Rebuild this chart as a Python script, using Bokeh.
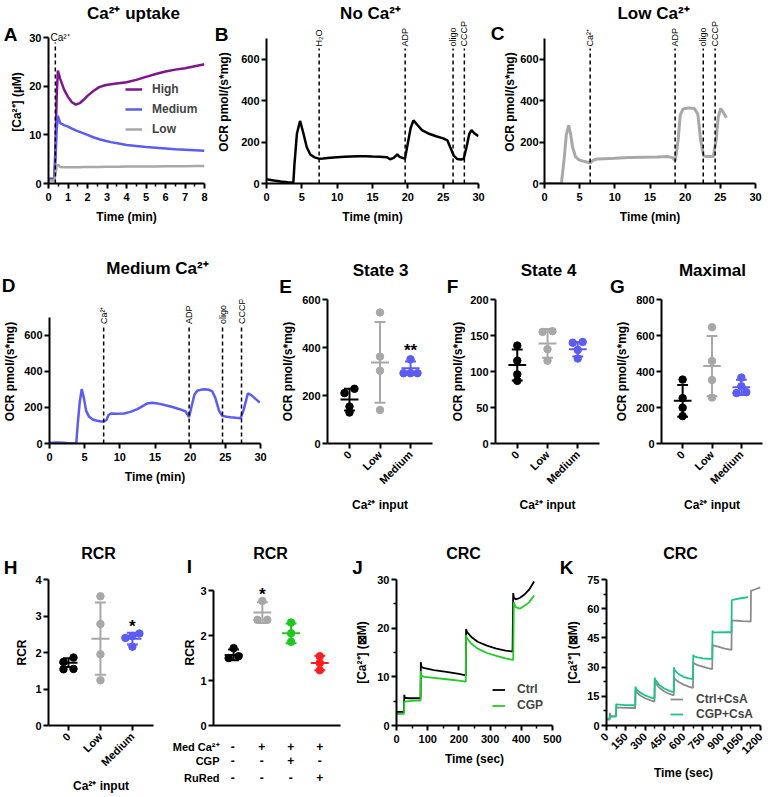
import math
from bokeh.plotting import figure
from bokeh.models import Range1d, Label, Legend, LegendItem, FixedTicker
from bokeh.layouts import row, column
from bokeh.embed import file_html
from bokeh.resources import INLINE
from bokeh.core.properties import value

FONT = "Liberation Sans"
nan = float("nan")

# ---------------- data ----------------
A_time = [0, 0.3, 0.36, 0.42, 0.48, 0.6, 0.8, 1.0, 1.2, 1.4, 1.6, 1.8, 2.0, 2.3, 2.6, 2.9, 3.2, 3.6, 4.0, 4.5, 5.0, 5.5, 6.0, 6.5, 7.0, 7.5, 8.0]
A_high = [1.0, 1.0, 8.0, 18.0, 23.2, 21.5, 19.3, 17.8, 16.7, 16.2, 16.5, 17.2, 18.0, 19.0, 19.8, 20.2, 20.4, 20.6, 20.8, 21.3, 21.9, 22.5, 23.0, 23.4, 23.7, 24.1, 24.5]
A_medium = [0.8, 0.8, 5.0, 11.0, 13.9, 12.4, 12.0, 11.7, 11.3, 10.9, 10.6, 10.3, 10.0, 9.5, 9.1, 8.8, 8.5, 8.2, 7.9, 7.7, 7.5, 7.35, 7.2, 7.05, 6.95, 6.85, 6.75]
A_low = [0.6, 0.6, 2.0, 3.5, 3.9, 3.4, 3.35, 3.35, 3.35, 3.35, 3.35, 3.4, 3.4, 3.4, 3.4, 3.45, 3.45, 3.45, 3.5, 3.5, 3.5, 3.5, 3.55, 3.55, 3.55, 3.6, 3.6]
A_inject = [0.35]

B_time = [0, 1, 2, 3, 3.8, 3.95, 4.3, 4.75, 5.2, 5.7, 6.2, 6.8, 7.4, 8, 9, 10, 11, 12, 13, 14, 15, 16, 17, 17.5, 18, 18.5, 18.8, 19.2, 19.6, 20.0, 20.4, 20.8, 21.3, 22, 23, 24, 25, 25.6, 26, 26.5, 27, 27.5, 27.9, 28.3, 28.7, 29.0, 29.5, 30]
B_ocr = [20, 15, 10, 6, 5, 90, 240, 302, 245, 175, 140, 126, 120, 121, 124, 127, 129, 130, 131, 132, 130, 129, 127, 117, 124, 140, 130, 124, 120, 195, 268, 305, 285, 258, 240, 228, 218, 208, 175, 135, 118, 116, 118, 175, 240, 258, 240, 228]
B_marks = [7.45, 19.62, 26.4, 28.0]
B_mark_labels = ["H\u2082O", "ADP", "oligo", "CCCP"]

C_time = [0, 0.5, 1.0, 1.5, 2.0, 2.4, 2.8, 3.1, 3.43, 3.7, 4.0, 4.4, 4.9, 5.5, 6.0, 6.5, 6.9, 7.5, 8.5, 10, 12, 14, 16, 17.5, 18.2, 18.6, 19.0, 19.3, 19.7, 20.5, 21.3, 21.8, 22.2, 22.6, 23.0, 24.0, 24.4, 24.7, 25.05, 25.4, 25.86]
C_ocr = [0, 0, 0, 0, 0, 0, 120, 235, 281, 240, 175, 130, 114, 108, 104, 100, 112, 118, 120, 122, 125, 127, 128, 130, 125, 112, 210, 330, 360, 365, 362, 335, 210, 136, 130, 130, 210, 320, 362, 345, 318]
C_marks = [6.49, 18.57, 22.57, 24.26]
C_mark_labels = ["Ca\u00b2\u207a", "ADP", "oligo", "CCCP"]

D_time = [0, 1, 2, 3, 3.8, 4.0, 4.3, 4.58, 4.9, 5.2, 5.6, 6.14, 6.8, 7.32, 7.8, 8.1, 8.4, 8.74, 9.5, 10.6, 11.5, 12.5, 13.3, 13.9, 14.6, 15.35, 16.5, 17.5, 18.5, 19.37, 19.84, 20.2, 20.6, 21.0, 21.5, 22.06, 22.6, 23.15, 23.6, 24.1, 24.56, 25.2, 25.74, 26.5, 27.16, 27.6, 28.2, 28.7, 29.29, 29.9]
D_ocr = [3, 6, 4, 0, 0, 100, 230, 301, 250, 182, 150, 133, 126, 122, 123, 130, 158, 166, 165, 166, 175, 190, 208, 222, 226, 222, 212, 202, 190, 177, 146, 205, 270, 292, 297, 300, 298, 288, 250, 182, 153, 148, 145, 142, 140, 185, 278, 268, 247, 226]
D_marks = [7.7, 19.85, 24.6, 27.3]
D_mark_labels = ["Ca\u00b2\u207a", "ADP", "oligo", "CCCP"]

CAT3 = ["0", "Low", "Medium"]
E_zero = [210, 228, 154, 129]
E_low = [546, 362, 303, 140]
E_medium = [351, 293, 293, 293]
E_mean = [183, 338, 314]
E_sd = [45, 168, 28]

F_zero = [136, 115, 96, 87]
F_low = [156, 155, 131, 115]
F_medium = [140, 141, 130, 118]
F_mean = [109, 139, 131]
F_sd = [21.5, 20, 10]

G_zero = [355, 252, 199, 152]
G_low = [646, 458, 353, 255]
G_medium = [366, 318, 285, 280]
G_mean = [237, 430, 312]
G_sd = [88, 167, 42]

H_zero = [1.74, 1.86, 1.54, 1.55]
H_low = [3.54, 2.78, 1.95, 1.24]
H_medium = [2.52, 2.45, 2.40, 2.16]
H_mean = [1.72, 2.38, 2.38]
H_sd = [0.12, 0.99, 0.16]

I_ctrl = [1.72, 1.50, 1.54]
I_med = [2.77, 2.35, 2.35]
I_cgp = [2.29, 2.05, 1.86]
I_rured = [1.54, 1.39, 1.23]
I_mean = [1.57, 2.51, 2.05, 1.39]
I_sd = [0.12, 0.23, 0.22, 0.16]
I_rows = ["Med Ca\u00b2\u207a", "CGP", "RuRed"]
I_signs = [["-", "+", "+", "+"], ["-", "-", "+", "-"], ["-", "-", "-", "+"]]

J_time = [0, 10, 24, 25, 27, 40, 60, 77, 78, 80, 90, 120, 160, 200, 222, 223, 226, 240, 260, 290, 320, 350, 372, 374, 376, 382, 395, 410, 425, 441]
J_ctrl = [2.8, 2.8, 2.8, 6.3, 5.7, 5.6, 5.6, 5.6, 13.0, 12.0, 11.8, 11.4, 11.0, 10.6, 10.3, 19.8, 19.2, 18.2, 17.2, 16.4, 15.8, 15.4, 15.2, 27.2, 26.3, 25.9, 26.2, 26.9, 27.9, 29.6]
J_cgp = [2.4, 2.4, 2.4, 4.9, 4.9, 5.0, 5.1, 5.1, 11.2, 10.2, 10.0, 9.8, 9.5, 9.2, 9.0, 18.6, 17.9, 16.8, 15.8, 14.9, 14.3, 13.8, 13.5, 13.5, 25.3, 24.3, 24.0, 24.6, 25.3, 26.7]

K_time = [0, 20, 24, 26, 30, 70, 74, 76, 80, 150, 224, 226, 230, 260, 300, 340, 374, 376, 380, 410, 450, 490, 524, 526, 530, 560, 600, 640, 674, 676, 680, 710, 750, 790, 824, 826, 830, 870, 920, 974, 976, 980, 1020, 1060, 1104, 1124, 1126, 1130, 1160, 1200]
K_ctrl = [3.0, 3.0, 3.0, 6.5, 4.8, 4.8, 4.8, 9.8, 9.3, 9.1, 9.0, 18.3, 17.5, 15.5, 14.0, 13.0, 12.3, 22.8, 22.0, 19.5, 17.5, 16.2, 15.5, 24.8, 24.0, 22.5, 21.0, 20.0, 19.3, 32.5, 32.0, 31.0, 30.2, 29.5, 29.0, 41.6, 41.2, 40.5, 39.5, 38.8, 54.2, 54.0, 53.8, 53.6, 53.5, 53.4, 69.3, 69.3, 70.0, 71.0]
K_cgp = [3.3, 3.3, 3.3, 4.8, 4.6, 4.6, 4.6, 11.1, 10.8, 10.5, 10.4, 20.0, 19.0, 17.0, 15.5, 14.5, 14.0, 24.5, 23.5, 21.0, 19.0, 17.8, 17.2, 29.9, 28.5, 26.5, 25.0, 24.2, 23.8, 36.3, 35.5, 35.0, 34.5, 34.3, 34.2, 48.8, 48.0, 47.8, 47.9, 47.9, 64.2, 64.5, 65.0, 65.5, 65.9, nan, nan, nan, nan, nan]

# ---------------- styles ----------------
PURPLE = "#7e1490"
BLUE = "#5b5bf6"
GRAY = "#a8a8a8"
BLACK = "#000000"
GREEN_I = "#1ec81e"
RED_I = "#ff1f1f"
GREEN_J = "#22cc22"
GRAY_K = "#8c8c8c"
GREEN_K = "#1ec38c"
GROUP3 = [BLACK, GRAY, BLUE]
GROUP4 = [BLACK, GRAY, GREEN_I, RED_I]
TOTAL_W, TOTAL_H = 768, 796


def make_fig(width, height, left, right, top, bottom, xr, yr, ext=0):
    fh = height - top - bottom
    y_end = yr[1] if ext == 0 else yr[0] + (yr[1] - yr[0]) * fh / (fh - ext)
    p = figure(width=width, height=height,
               x_range=Range1d(xr[0], xr[1]), y_range=Range1d(yr[0], y_end),
               output_backend="svg", toolbar_location=None,
               min_border_left=left, min_border_right=right,
               min_border_top=top, min_border_bottom=bottom)
    p.outline_line_color = None
    p.grid.grid_line_color = None
    p.background_fill_color = "white"
    p.border_fill_color = "white"
    p.yaxis.bounds = (yr[0], yr[1])
    for ax in p.axis:
        ax.axis_line_width = 2
        ax.axis_line_color = "black"
        ax.major_tick_line_width = 2
        ax.minor_tick_line_width = 1.5
        ax.major_tick_out = 5
        ax.major_tick_in = 0
        ax.minor_tick_out = 3
        ax.minor_tick_in = 0
        ax.major_label_text_font = FONT
        ax.major_label_text_font_style = "bold"
        ax.major_label_text_font_size = "11px"
        ax.major_label_text_color = "black"
        ax.axis_label_text_font = FONT
        ax.axis_label_text_font_style = "bold"
        ax.axis_label_text_font_size = "12px"
        ax.axis_label_text_color = "black"
    p.xaxis.major_label_standoff = 4
    p.yaxis.major_label_standoff = 2
    info = dict(x0=xr[0], x1=xr[1], y0=yr[0], y1=y_end,
                fw=width - left - right, fh=fh, axis_top=fh - ext)
    return p, info


def px2y(info, dy):
    return info["y0"] + dy * (info["y1"] - info["y0"]) / info["fh"]


def px2x(info, dx):
    return info["x0"] + dx * (info["x1"] - info["x0"]) / info["fw"]


def ticks(p, xt, yt, xm=None, ym=None):
    p.xaxis.ticker = FixedTicker(ticks=xt, minor_ticks=xm or [])
    p.yaxis.ticker = FixedTicker(ticks=yt, minor_ticks=ym or [])


def labels(p, x_label, y_label, xs, ys):
    if x_label:
        p.xaxis.axis_label = x_label
        p.xaxis.axis_label_standoff = xs
    p.yaxis.axis_label = y_label
    p.yaxis.axis_label_standoff = ys


def markers(p, info, marks, mark_labels):
    top = px2y(info, info["axis_top"] - 10)
    p.segment(x0=marks, y0=[0] * len(marks), x1=marks, y1=[top] * len(marks),
              line_color="black", line_width=1.5, line_dash="4 3")
    for m, lab in zip(marks, mark_labels):
        p.add_layout(Label(x=m, y=px2y(info, info["axis_top"] - 8), text=lab, angle=math.pi / 2,
                           text_align="left", text_baseline="middle", text_font=FONT,
                           text_font_size="9px", text_color="black"))


def swarm(vals, ppu, thr=5.0):
    order = sorted(range(len(vals)), key=lambda k: vals[k])
    clusters = []
    for k in order:
        if clusters and (vals[k] - vals[clusters[-1][-1]]) * ppu < thr:
            clusters[-1].append(k)
        else:
            clusters.append([k])
    offs = [0.0] * len(vals)
    for cl in clusters:
        n = len(cl)
        step = 10.0 if n == 2 else 7.0
        for j, k in enumerate(cl):
            offs[k] = (j - (n - 1) / 2) * step
    return offs


def dotplot(p, info, groups, means, sds, colors):
    ppu = info["fh"] / (info["y1"] - info["y0"])
    ppc = info["fw"] / (info["x1"] - info["x0"])
    cap = 5.5 / ppc
    half = 9.0 / ppc
    for i, (vals, m, s, c) in enumerate(zip(groups, means, sds, colors)):
        xc = i + 1
        p.segment(x0=[xc], y0=[m - s], x1=[xc], y1=[m + s], line_color=c, line_width=2)
        p.segment(x0=[xc - cap, xc - cap], y0=[m - s, m + s], x1=[xc + cap, xc + cap],
                  y1=[m - s, m + s], line_color=c, line_width=2)
        p.segment(x0=[xc - half], y0=[m], x1=[xc + half], y1=[m], line_color=c, line_width=2)
        offs = swarm(vals, ppu)
        xs = [xc + o / ppc for o in offs]
        p.scatter(xs, vals, size=7.5, fill_color=c, line_color=c)


def star(p, x, y, text, up):
    p.add_layout(Label(x=x, y=y, y_offset=up, text=text, text_font=FONT,
                       text_font_size="17px", text_font_style="bold", text_align="center",
                       text_baseline="middle", text_color="black"))


def cat_axis(p, cats):
    p.xaxis.major_label_overrides = {i + 1: c for i, c in enumerate(cats)}
    p.xaxis.major_label_orientation = math.pi / 4


def legend(p, items, loc, gw, gh, standoff, spacing):
    lg = Legend(items=[LegendItem(label=value(t), renderers=[r]) for t, r in items],
                location=loc)
    lg.padding = 0
    lg.margin = 0
    lg.spacing = spacing
    lg.glyph_width = gw
    lg.glyph_height = gh
    lg.label_height = gh
    lg.label_standoff = standoff
    lg.label_text_font = FONT
    lg.label_text_font_style = "bold"
    lg.label_text_font_size = "12px"
    lg.background_fill_alpha = 0
    lg.border_line_alpha = 0
    p.add_layout(lg)


OCR_LABEL = "OCR pmol/(s*mg)"
CA_INPUT = "Ca\u00b2\u207a input"
CA_UM = "[Ca\u00b2\u207a] (\u00b5M)"
CA_BOX = "[Ca\u00b2\u207a] (\u22a0M)"

# ---------------- row 1 ----------------
R1H, R1T, R1B = 226, 20, 43
pA, iA = make_fig(214, R1H, 48, 10, R1T, R1B, (0, 8), (0, 30), ext=17)
ticks(pA, list(range(0, 9)), [0, 10, 20, 30], xm=[k + 0.5 for k in range(8)])
rh = pA.line(A_time, A_high, line_color=PURPLE, line_width=2.5)
rm = pA.line(A_time, A_medium, line_color=BLUE, line_width=2.5)
rl = pA.line(A_time, A_low, line_color=GRAY, line_width=2.5)
pA.segment(x0=A_inject, y0=[0], x1=A_inject, y1=[px2y(iA, iA["axis_top"] - 5)],
           line_color="black", line_width=1.5, line_dash="4 3")
pA.add_layout(Label(x=px2x(iA, 2), y=px2y(iA, iA["axis_top"] + 0.5), text="Ca\u00b2\u207a",
                    text_font=FONT, text_font_size="10px", text_align="left",
                    text_baseline="middle", text_color="black"))
legend(pA, [("High", rh), ("Medium", rm), ("Low", rl)], (77, 46), 17, 16, 10, 4)
labels(pA, "Time (min)", CA_UM, 6, 2)

pB, iB = make_fig(286, R1H, 52, 22, R1T, R1B, (0, 30), (0, 700), ext=18)
ticks(pB, [0, 5, 10, 15, 20, 25, 30], [0, 200, 400, 600])
pB.line(B_time, B_ocr, line_color=BLACK, line_width=2.5)
markers(pB, iB, B_marks, B_mark_labels)
labels(pB, "Time (min)", OCR_LABEL, 6, 7)

pC, iC = make_fig(268, R1H, 42, 13, R1T, R1B, (0, 30), (0, 700), ext=18)
ticks(pC, [0, 5, 10, 15, 20, 25, 30], [0, 200, 400, 600])
pC.line(C_time, C_ocr, line_color=GRAY, line_width=3)
markers(pC, iC, C_marks, C_mark_labels)
labels(pC, "Time (min)", OCR_LABEL, 6, 0)
pC.yaxis.major_label_standoff = 1

# ---------------- row 2 ----------------
R2H, R2B = 289, 72
pD, iD = make_fig(278, R2H, 48, 18, 53, R2B, (0, 30), (0, 700), ext=20)
ticks(pD, [0, 5, 10, 15, 20, 25, 30], [0, 200, 400, 600])
pD.line(D_time, D_ocr, line_color=BLUE, line_width=2.5)
markers(pD, iD, D_marks, D_mark_labels)
labels(pD, "Time (min)", OCR_LABEL, 6, 4)

pE, iE = make_fig(170, R2H, 49, 16, 73, R2B, (0.28, 3.72), (0, 600))
ticks(pE, [1, 2, 3], [0, 200, 400, 600])
cat_axis(pE, CAT3)
dotplot(pE, iE, [E_zero, E_low, E_medium], E_mean, E_sd, GROUP3)
star(pE, 3, E_mean[2] + E_sd[2], "**", 11)
labels(pE, CA_INPUT, OCR_LABEL, 5, 4)

pF, iF = make_fig(164, R2H, 46, 13, 73, R2B, (0.28, 3.72), (0, 200))
ticks(pF, [1, 2, 3], [0, 50, 100, 150, 200])
cat_axis(pF, CAT3)
dotplot(pF, iF, [F_zero, F_low, F_medium], F_mean, F_sd, GROUP3)
labels(pF, CA_INPUT, OCR_LABEL, 5, 2)

pG, iG = make_fig(156, R2H, 47, 6, 73, R2B, (0.28, 3.72), (0, 800))
ticks(pG, [1, 2, 3], [0, 200, 400, 600, 800])
cat_axis(pG, CAT3)
dotplot(pG, iG, [G_zero, G_low, G_medium], G_mean, G_sd, GROUP3)
labels(pG, CA_INPUT, OCR_LABEL, 5, 4)

# ---------------- row 3 ----------------
R3H, R3T, R3B = 281, 64, 71
pH, iH = make_fig(180, R3H, 48, 27, R3T, R3B, (0.375, 3.66), (0, 4))
ticks(pH, [1, 2, 3], [0, 1, 2, 3, 4])
cat_axis(pH, CAT3)
dotplot(pH, iH, [H_zero, H_low, H_medium], H_mean, H_sd, GROUP3)
star(pH, 3, H_mean[2] + H_sd[2], "*", 6)
labels(pH, CA_INPUT, "RCR", 4, 3)

pI, iI = make_fig(169, R3H, 32, 9, R3T - 12, R3B, (0.3, 4.72), (0, 3), ext=12)
ticks(pI, [], [0, 1, 2, 3])
dotplot(pI, iI, [I_ctrl, I_med, I_cgp, I_rured], I_mean, I_sd, GROUP4)
star(pI, 2, I_mean[1] + I_sd[1], "*", 8)
labels(pI, None, "RCR", 0, 0)

pJ, iJ = make_fig(213, R3H, 47, 10, R3T, R3B, (0, 500), (0, 30))
ticks(pJ, [0, 100, 200, 300, 400, 500], [0, 10, 20, 30],
      xm=[50, 150, 250, 350, 450], ym=[5, 15, 25])
rj1 = pJ.line(J_time, J_ctrl, line_color=BLACK, line_width=1.8)
rj2 = pJ.line(J_time, J_cgp, line_color=GREEN_J, line_width=1.8)
legend(pJ, [("Ctrl", rj1), ("CGP", rj2)], (96, 13), 13, 13, 12, 2)
labels(pJ, "Time (sec)", CA_BOX, 6, 5)

pK, iK = make_fig(206, R3H, 44, 8, R3T, R3B, (0, 1200), (0, 75))
ticks(pK, list(range(0, 1201, 150)), [0, 15, 30, 45, 60, 75],
      xm=list(range(75, 1200, 150)), ym=[7.5, 22.5, 37.5, 52.5, 67.5])
pK.xaxis.major_label_orientation = math.pi / 4
rk1 = pK.line(K_time, K_ctrl, line_color=GRAY_K, line_width=1.8)
rk2 = pK.line(K_time, K_cgp, line_color=GREEN_K, line_width=1.8)
legend(pK, [("Ctrl+CsA", rk1), ("CGP+CsA", rk2)], (64, 4), 13, 12, 13, 1)
labels(pK, "Time (sec)", CA_BOX, 6, 4)

# ---------------- overlay with panel titles, letters and I's condition table ----------------
ov = figure(width=TOTAL_W, height=TOTAL_H, x_range=Range1d(0, TOTAL_W), y_range=Range1d(TOTAL_H, 0),
            x_axis_location=None, y_axis_location=None, output_backend="svg",
            toolbar_location=None, min_border=0, margin=(-TOTAL_H, 0, 0, 0))
ov.outline_line_color = None
ov.background_fill_alpha = 0
ov.border_fill_alpha = 0
ov.grid.visible = False

TITLES = ["Ca\u00b2\u207a uptake", "No Ca\u00b2\u207a", "Low Ca\u00b2\u207a", "Medium Ca\u00b2\u207a",
          "State 3", "State 4", "Maximal", "RCR", "RCR", "CRC", "CRC"]
TITLE_POS = [(133, 13), (370, 13), (653, 13), (157, 268), (380, 270), (548, 270), (712, 270),
             (98, 553), (270, 553), (463, 553), (680, 553)]
TITLE_SIZE = ["17px"] * 7 + ["16px"] * 4
LETTERS = list("ABCDEFGHIJK")
LETTER_POS = [(10, 34), (221, 34), (497, 33), (8, 285), (285, 286), (452, 286), (617, 286),
              (10, 567), (189, 566), (357, 567), (566, 567)]


def ov_text(x, y, text, size, align="center"):
    ov.add_layout(Label(x=x, y=y, text=text, text_font=FONT, text_font_size=size,
                        text_font_style="bold", text_align=align, text_baseline="middle",
                        text_color="black"))


for t, (x, y), s in zip(TITLES, TITLE_POS, TITLE_SIZE):
    ov_text(x, y, t, s)
for t, (x, y) in zip(LETTERS, LETTER_POS):
    ov_text(x, y, t, "19px")

I_frame_left = 180 + 32
I_ppc = iI["fw"] / (iI["x1"] - iI["x0"])
TABLE_Y = [746, 760, 777]
for r, (lab, signs) in enumerate(zip(I_rows, I_signs)):
    ov_text(219, TABLE_Y[r], lab, "11px", align="right")
    for c, s in enumerate(signs):
        ov_text(I_frame_left + (c + 1 - iI["x0"]) * I_ppc, TABLE_Y[r], s, "12px")

layout = column(row(pA, pB, pC), row(pD, pE, pF, pG), row(pH, pI, pJ, pK), ov)

with open("out.html", "w") as f:
    f.write(file_html(layout, INLINE))
